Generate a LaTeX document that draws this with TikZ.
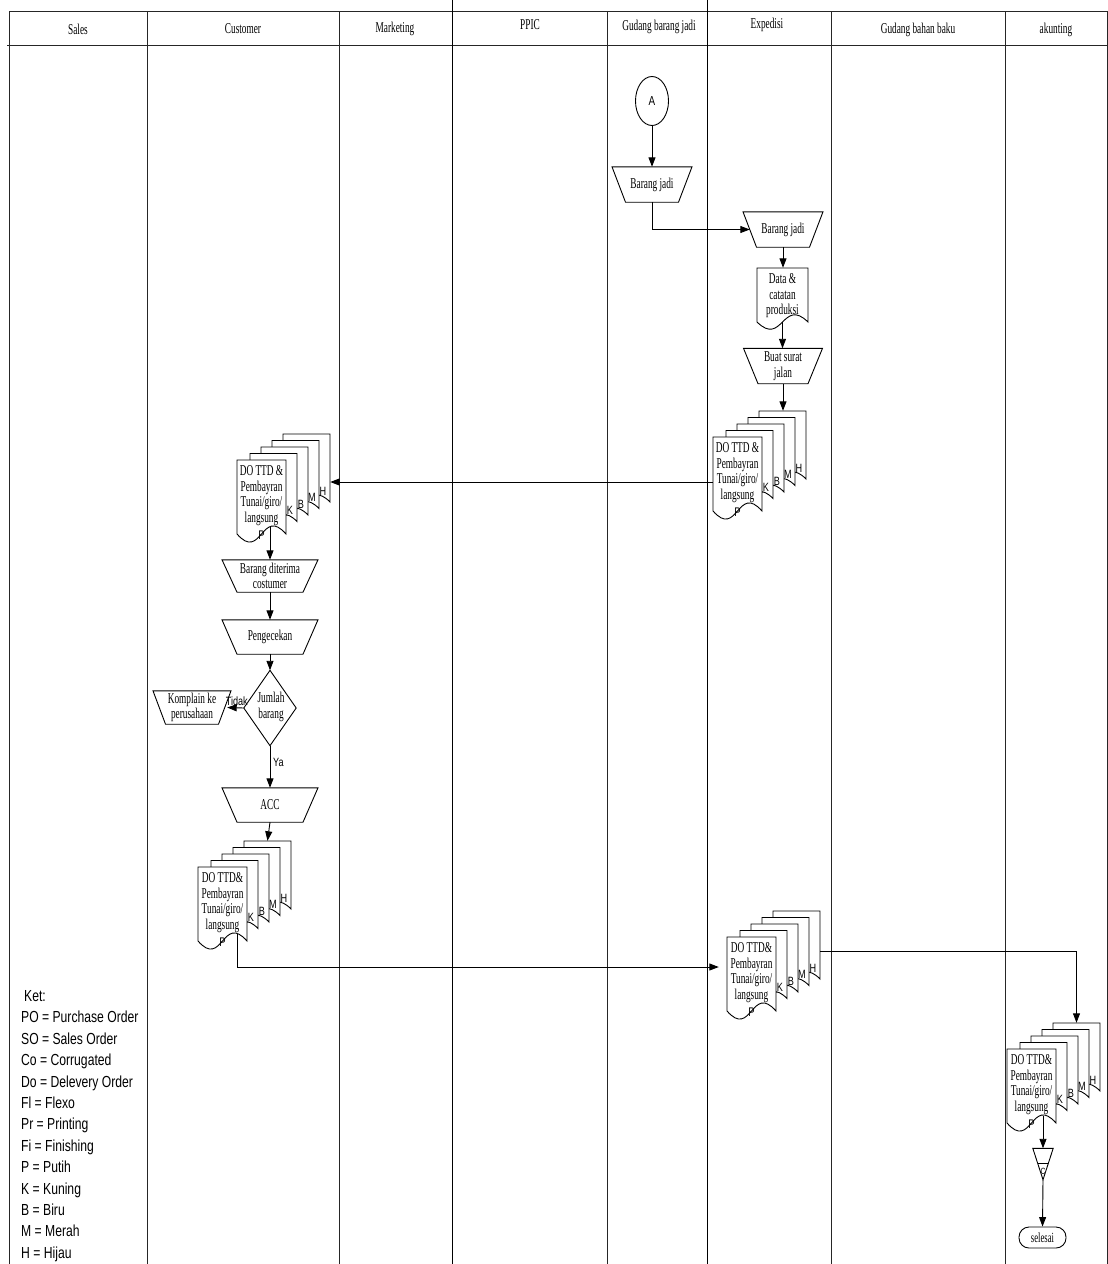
\documentclass[tikz,border=0pt]{standalone}
\usepackage{fontspec}
\setmainfont{Liberation Serif}[FakeStretch=0.62]
\newfontfamily\nsans{Liberation Sans}[FakeStretch=0.76]
\usetikzlibrary{arrows.meta,calc,shapes.geometric}

% trapezoid (manual operation): name, cx, cy, top width, bottom width, height, text
\newcommand\manop[7]{%
  \node[txt, minimum width=#4pt, minimum height=#6pt] (#1) at (#2,#3) {#7};
  \draw[ln] ($(#1.north)+({-#4/2},0)$) -- ($(#1.north)+({#4/2},0)$) --
    ($(#1.south)+({#5/2},0)$) -- ($(#1.south)+({-#5/2},0)$) -- cycle;}

% document outline: x, y, w, h, wave control
\newcommand\docpath[5]{%
  \draw[ln, fill=white] ({#1},{#2}) -- ({#1+#3},{#2}) -- ({#1+#3},{#2+#4})
    .. controls ({#1+#3/2},{#2+#4-#5}) and ({#1+#3/2},{#2+#4+#5}) .. ({#1},{#2+#4}) -- cycle;}

% stack of five documents: name, x, y (front doc top left), first text line
\newcommand\docstack[4]{%
  \foreach \k/\l in {4/H,3/M,2/B,1/K}{%
    \docpath{#2+2+11*\k}{#3-6.5*\k}{47}{68}{24}
    \node[lbl] (#1l\l) at ({#2+42+11*\k},{#3+57-6.5*\k}) {\l};
  }
  \node[box, minimum width=47pt, minimum height=68pt] (#1h) at ({#2+69.5},{#3+8}) {};
  \docpath{#2}{#3}{49}{74}{28}
  \node[box, minimum width=49pt, minimum height=74pt] (#1) at ({#2+24.5},{#3+37}) {};
  \node[txt] (#1t) at ({#2+24.5},{#3+35.5}) {#4\\Pembayran\\Tunai/giro/\\langsung};
  \node[lbl, font=\nsans\fontsize{12.5}{13}\selectfont] (#1p) at ({#2+24.5},{#3+75}) {P};
}

\begin{document}
\begin{tikzpicture}[x=1pt,y=-1pt,
  ln/.style={line width=0.9pt},
  arr/.style={line width=0.9pt,-{Triangle[length=9.5pt,width=7pt]}},
  lane/.style={line width=0.9pt, draw=black!85},
  txt/.style={inner sep=0pt,align=center,font=\fontsize{15}{15.5}\selectfont},
  lbl/.style={inner sep=0pt,font=\nsans\fontsize{12}{13}\selectfont},
  hdr/.style={inner sep=0pt,font=\fontsize{15}{16}\selectfont},
  box/.style={inner sep=0pt,draw=none}]
\useasboundingbox (0,0) rectangle (1108,1264);

% swimlanes
\draw[lane] (9,11) -- (1107,11);
\draw[lane] (7,45) -- (1107,45);
\foreach \x in {9,147,339,607,831,1005,1107} \draw[lane] (\x,11) -- (\x,1264);
\foreach \x in {452,707} \draw[lane, draw=black] (\x,0) -- (\x,1264);

\node[hdr] (h1) at (78,29) {Sales};
\node[hdr] (h2) at (243,29) {Customer};
\node[hdr] (h3) at (395,29) {Marketing};
\node[hdr] (h4) at (530,25) {PPIC};
\node[hdr] (h5) at (659,27) {Gudang barang jadi};
\node[hdr] (h6) at (767,25) {Expedisi};
\node[hdr] (h7) at (918,30) {Gudang bahan baku};
\node[hdr] (h8) at (1056,30) {akunting};

% Gudang barang jadi / Expedisi
\node[draw, ln, ellipse, minimum width=33pt, minimum height=49pt, inner sep=0pt,
  font=\nsans\fontsize{13}{14}\selectfont] (A) at (652,101) {A};
\manop{bj1}{652}{184.5}{80}{53}{35}{Barang jadi}
\manop{bj2}{783}{229.5}{80}{53}{35}{Barang jadi}
\docpath{757}{268}{51}{54}{25}
\node[box, minimum width=51pt, minimum height=54pt] (data) at (782.5,295) {};
\node[txt] (datat) at (782.5,296) {Data \&\\catatan\\produksi};
\manop{bsj}{783}{366}{79}{50}{35}{Buat surat\\jalan}
\docstack{s1}{713}{437}{DO TTD \&}

% Customer
\docstack{s2}{237}{460}{DO TTD \&}
\manop{bdc}{270}{576}{96}{66}{32}{Barang diterima\\costumer}
\manop{pen}{270}{637}{96}{66}{34}{Pengecekan}
\node[box, minimum width=52pt, minimum height=75pt] (dia) at (270,708) {};
\draw[ln] (dia.north) -- (dia.east) -- (dia.south) -- (dia.west) -- cycle;
\node[txt] (diat) at (271,707) {Jumlah\\barang};
\manop{kom}{192}{707.5}{78}{53}{33}{Komplain ke\\perusahaan}
\manop{acc}{270}{805}{96}{66}{34}{ACC}
\docstack{s3}{198}{867}{DO TTD\&}

% Expedisi lower and akunting
\docstack{s4}{727}{937}{DO TTD\&}
\docstack{s5}{1007}{1049}{DO TTD\&}
\node[box, minimum width=20pt, minimum height=31pt] (op) at (1043,1164) {};
\draw[ln] (op.north west) -- (op.north east) -- (op.south) -- cycle;
\draw[ln] ($(op.north west)!0.47!(op.south)$) -- ($(op.north east)!0.47!(op.south)$);
\node[lbl, font=\nsans\fontsize{9}{10}\selectfont] (opc) at (1043,1171) {C};
\node[draw, ln, rounded corners=10pt, minimum width=47pt, minimum height=21pt,
  inner sep=0pt, font=\fontsize{14}{14}\selectfont] (sel) at (1042.5,1237.5) {selesai};

% legend
\node[anchor=west, inner sep=0pt, align=left, font=\nsans\fontsize{16}{21.4}\selectfont] (ket)
  at (21,1126) {\hspace*{3pt}Ket:\\PO = Purchase Order\\SO = Sales Order\\Co = Corrugated\\
  Do = Delevery Order\\Fl = Flexo\\Pr = Printing\\Fi = Finishing\\P = Putih\\K = Kuning\\
  B = Biru\\M = Merah\\H = Hijau};

% connectors
\draw[arr] (A.south) -- (bj1.north);
\draw[arr] (bj1.south) |- ($(bj2.west)+(7,0)$);
\draw[arr] (bj2.south) -- (bj2.south |- data.north);
\draw[arr] (data.south) -- (data.south |- bsj.north);
\draw[arr] (bsj.south) -- (bsj.south |- s1h.north);
\coordinate (s1w) at ($(s1.west)+(0,8)$);
\draw[arr] (s1w) -- (s1w -| s2h.east);
\draw[arr] ($(bdc.north |- s2.south)+(0,-7)$) -- (bdc.north);
\draw[arr] (bdc.south) -- (pen.north);
\draw[arr] (pen.south) -- (dia.north);
\draw[arr] (dia.west) -- ($(kom.east)+(-4,0)$);
\node[lbl, anchor=south east] (tidak) at (248,706) {Tidak};
\draw[arr] (dia.south) -- (acc.north);
\node[lbl, anchor=west] (ya) at (273,762) {Ya};
\draw[arr] (acc.south) -- (s3h.north);
\coordinate (s3o) at ($(s3.south)+(14.5,-7.5)$);
\draw[arr] (s3o) |- ($(s4.west)+(-8,-7)$);
\draw[arr] ($(s4h.east)+(0,6)$) -| (s5h.north);
\draw[arr] ($(op.north |- s5.south)+(0,-7)$) -- (op.north);
\draw[arr] (op.south) -- (sel.north);
\end{tikzpicture}
\end{document}
